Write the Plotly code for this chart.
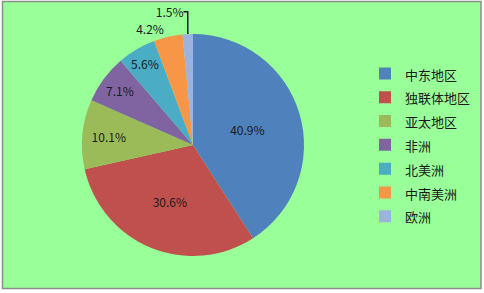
import plotly.graph_objects as go

regions = ["中东地区", "独联体地区", "亚太地区", "非洲", "北美洲", "中南美洲", "欧洲"]
shares = [40.9, 30.6, 10.1, 7.1, 5.6, 4.2, 1.5]
colors = ["#4F81BD", "#C0504D", "#9BBB59", "#8064A2", "#4BACC6", "#F79646", "#9DB3DF"]
positions = ["inside", "inside", "inside", "inside", "inside", "outside", "outside"]

W, H = 484, 293
cx, cy, r = 193, 145, 111

fig = go.Figure()
fig.add_trace(go.Pie(
    labels=[f"<span style='font-size:13px'>{n}</span>" for n in regions],
    values=shares,
    text=[f"{v:.1f}%" for v in shares],
    textinfo="text",
    textposition=positions,
    insidetextorientation="horizontal",
    sort=False,
    direction="clockwise",
    rotation=0,
    marker=dict(colors=colors, line=dict(width=0)),
    textfont=dict(family="Noto Sans CJK SC, Arial", size=12, color="#1a1a1a"),
    hoverinfo="none",
    domain=dict(x=[(cx - r) / W, (cx + r) / W], y=[(H - cy - r) / H, (H - cy + r) / H]),
))

fig.add_shape(type="rect", xref="paper", yref="paper", x0=2.5 / W, x1=481 / W, y0=1 - 288.5 / H, y1=1 - 1.5 / H,
              fillcolor="#99FF99", line=dict(color="#8c8c8c", width=1.5), layer="below")

fig.update_layout(
    width=W, height=H,
    margin=dict(l=0, r=0, t=0, b=0, autoexpand=False),
    paper_bgcolor="white",
    plot_bgcolor="white",
    showlegend=True,
    legend=dict(x=365 / W, y=0.505, xanchor="left", yanchor="middle",
                font=dict(family="Noto Sans CJK SC", size=16, color="#1a1a1a"),
                bgcolor="rgba(0,0,0,0)", itemwidth=30),
    font=dict(family="Noto Sans CJK SC"),
)

fig.write_html("out.html")
